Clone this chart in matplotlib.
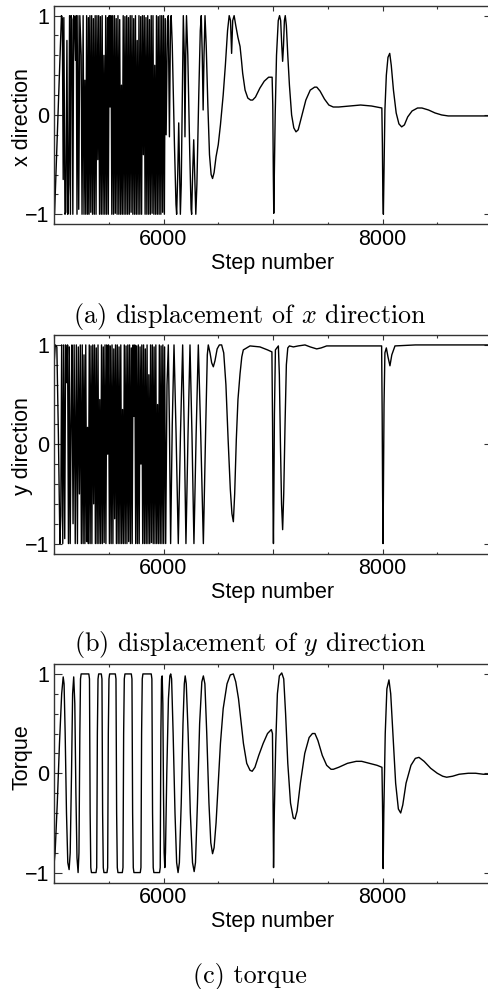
import matplotlib
matplotlib.use('Agg')
import matplotlib.pyplot as plt
import numpy as np
from matplotlib.ticker import MultipleLocator

plt.rcParams['font.family'] = ['Liberation Sans', 'DejaVu Sans']
plt.rcParams['mathtext.fontset'] = 'cm'

# x direction: (step, value)
x_dense = [(5005, -1.00), (5068, 1.00), (5076, 0.97), (5084, -0.65), (5090, 0.98), (5100, -1.00),
           (5108, -0.98), (5118, 0.75), (5126, -1.00), (5134, -0.70), (5142, 1.00), (5150, -1.00),
           (5156, 1.00), (5164, 0.96), (5172, -1.00), (5180, 1.00), (5188, 0.97), (5196, 0.55),
           (5203, 1.00), (5210, -1.00), (5218, 1.00), (5226, -0.95), (5236, 1.00), (5248, 0.60),
           (5256, -1.00), (5266, 1.00), (5274, -1.00), (5282, 0.35), (5290, -1.00), (5298, 1.00),
           (5306, -1.00), (5314, 0.98), (5320, -1.00), (5328, 1.00), (5336, -0.98), (5344, 1.00),
           (5352, -1.00), (5360, 0.97), (5368, -1.00), (5376, 1.00), (5384, -1.00), (5392, 1.00),
           (5400, -0.45), (5408, 1.00), (5416, -1.00), (5424, 0.99), (5432, -1.00), (5440, 1.00),
           (5448, -1.00), (5456, 0.60), (5464, -1.00), (5472, 1.00), (5480, -1.00), (5488, 0.98),
           (5496, -1.00), (5504, 1.00), (5512, 0.08), (5520, 1.00), (5528, -1.00), (5536, 1.00),
           (5544, -1.00), (5552, 1.00), (5560, -0.99), (5568, 0.97), (5576, -1.00), (5584, 1.00),
           (5592, -1.00), (5600, 0.96), (5608, -1.00), (5616, 0.30), (5624, -1.00), (5632, 1.00),
           (5640, -1.00), (5648, 0.99), (5656, -1.00), (5664, 1.00), (5672, -1.00), (5680, 0.98),
           (5688, -1.00), (5696, 1.00), (5704, -0.98), (5712, 1.00), (5720, -1.00), (5728, 0.97),
           (5736, -1.00), (5744, 1.00), (5752, -1.00), (5760, 0.75), (5768, -1.00), (5776, 1.00),
           (5784, -1.00), (5792, 0.99), (5800, -1.00), (5808, 1.00), (5816, -0.40), (5824, 1.00),
           (5832, -1.00), (5840, 0.98), (5848, -1.00), (5856, 1.00), (5864, -1.00), (5872, 0.96),
           (5880, -1.00), (5888, 1.00), (5896, -0.99), (5904, 1.00), (5912, -1.00), (5920, 0.50),
           (5928, -1.00), (5936, 1.00), (5944, -1.00), (5952, 0.99), (5960, -1.00), (5968, 1.00),
           (5976, -1.00), (5984, 1.00), (5992, -0.98), (6000, 1.00), (6008, -1.00), (6016, 0.97),
           (6024, -0.20)]
x_tail = [(6036, 0.95), (6044, 1.00), (6054, -0.22), (6064, 0.95), (6070, 1.00), (6080, 0.70),
          (6100, -0.30), (6114, -0.90), (6120, -1.00), (6130, -0.60), (6139, -0.08), (6148, -0.60),
          (6154, -1.00), (6162, -0.70), (6174, 0.40), (6181, 1.00), (6190, 0.60), (6196, -0.22),
          (6203, 0.60), (6210, 1.00), (6222, 0.60), (6240, -0.40), (6252, -0.95), (6257, -1.00),
          (6266, -0.60), (6276, -0.25), (6285, -0.60), (6295, -1.00), (6305, -0.70), (6322, 0.20),
          (6336, 0.85), (6345, 1.00), (6354, 0.60), (6362, 0.05), (6370, 0.60), (6379, 1.00),
          (6390, 0.70), (6405, 0.10), (6420, -0.40), (6435, -0.60), (6448, -0.64), (6462, -0.58),
          (6480, -0.42), (6500, -0.30), (6520, -0.10), (6545, 0.20), (6565, 0.50), (6585, 0.85),
          (6600, 1.00), (6612, 0.95), (6622, 0.62), (6632, 0.95), (6645, 1.00), (6660, 0.90),
          (6680, 0.78), (6699, 0.69), (6712, 0.55), (6723, 0.42), (6745, 0.25), (6770, 0.17),
          (6795, 0.15), (6814, 0.15), (6840, 0.18), (6880, 0.27), (6920, 0.34), (6960, 0.38),
          (6992, 0.38), (6998, 0.10), (7003, -0.60), (7007, -0.99), (7012, -0.60), (7020, 0.00),
          (7032, 0.60), (7048, 0.95), (7060, 1.00), (7070, 0.95), (7080, 0.70), (7088, 0.54),
          (7096, 0.70), (7104, 0.95), (7112, 1.00), (7122, 0.90), (7135, 0.60), (7150, 0.30),
          (7170, 0.00), (7190, -0.13), (7210, -0.17), (7230, -0.15), (7260, -0.02), (7300, 0.15),
          (7340, 0.25), (7380, 0.28), (7400, 0.28), (7430, 0.24), (7470, 0.16), (7510, 0.10),
          (7550, 0.08), (7600, 0.08), (7700, 0.09), (7800, 0.10), (7900, 0.09), (7994, 0.07),
          (7999, -0.30), (8003, -0.80), (8008, -1.00), (8013, -0.60), (8022, 0.05), (8035, 0.40),
          (8050, 0.58), (8066, 0.62), (8080, 0.50), (8100, 0.25), (8125, 0.02), (8150, -0.09),
          (8175, -0.12), (8200, -0.10), (8230, -0.02), (8270, 0.04), (8320, 0.07), (8360, 0.07),
          (8420, 0.05), (8480, 0.02), (8540, 0.00), (8600, -0.01), (8700, -0.01), (8800, -0.01),
          (9000, -0.01)]

# y direction: panel (b)
y_dense = [(5000, 0.80), (5012, 1.00), (5026, 0.98), (5040, 0.10), (5054, -1.00), (5062, -0.72),
           (5070, 1.00), (5080, -1.00), (5088, 1.00), (5098, -0.95), (5106, 1.00), (5116, 0.62),
           (5124, 1.00), (5132, -1.00), (5140, 0.98), (5148, -1.00), (5156, 0.20), (5164, 1.00),
           (5174, -0.80), (5184, 1.00), (5194, -1.00), (5204, 1.00), (5214, -1.00), (5222, 0.98),
           (5232, -0.50), (5240, 1.00), (5250, -1.00), (5258, 1.00), (5266, -1.00), (5274, 0.90),
           (5282, -1.00), (5290, 1.00), (5298, -0.98), (5306, 0.17), (5314, -1.00), (5322, 1.00),
           (5330, -1.00), (5338, 0.99), (5346, -1.00), (5354, 1.00), (5362, -0.60), (5370, 1.00),
           (5378, -1.00), (5386, 0.97), (5394, -1.00), (5402, 1.00), (5410, -1.00), (5418, 0.45),
           (5426, -1.00), (5434, 1.00), (5442, -1.00), (5450, 0.98), (5458, -0.99), (5466, 1.00),
           (5474, -1.00), (5482, 1.00), (5490, -0.10), (5498, 1.00), (5506, -1.00), (5514, 0.99),
           (5522, -1.00), (5530, 1.00), (5538, -1.00), (5546, 0.96), (5554, -0.75), (5562, 1.00),
           (5570, -1.00), (5578, 1.00), (5586, -1.00), (5594, 0.98), (5602, -1.00), (5610, 1.00),
           (5618, -1.00), (5626, 0.35), (5634, -1.00), (5642, 1.00), (5650, -1.00), (5658, 0.99),
           (5666, -1.00), (5674, 1.00), (5682, -0.98), (5690, 1.00), (5698, -1.00), (5706, 0.97),
           (5714, -1.00), (5722, 1.00), (5730, 0.28), (5738, 1.00), (5746, -1.00), (5754, 0.99),
           (5762, -1.00), (5770, 1.00), (5778, -1.00), (5786, 0.98), (5794, -0.20), (5802, 1.00),
           (5810, -1.00), (5818, 1.00), (5826, -1.00), (5834, 0.96), (5842, -1.00), (5850, 1.00),
           (5858, -1.00), (5866, 0.70), (5874, -1.00), (5882, 1.00), (5890, -0.99), (5898, 1.00),
           (5906, -1.00), (5914, 0.98), (5922, -1.00), (5930, 1.00), (5938, -1.00), (5946, 0.40),
           (5954, -1.00), (5962, 1.00), (5970, -1.00), (5978, 0.99), (5986, -1.00), (5994, 1.00),
           (6002, -1.00), (6010, 0.98), (6020, -1.00)]
y_tail = [(6032, 0.60), (6044, 1.00), (6054, 0.20), (6065, -1.00), (6080, 0.20), (6096, 1.00),
          (6115, 0.10), (6135, -1.00), (6155, 0.10), (6175, 1.00), (6190, 0.10), (6205, -1.00),
          (6224, 0.10), (6242, 1.00), (6260, 0.10), (6278, -1.00), (6298, 0.10), (6318, 1.00),
          (6340, 0.10), (6364, -1.00), (6386, 0.20), (6400, 0.90), (6409, 1.00), (6425, 0.92),
          (6440, 0.82), (6455, 0.78), (6470, 0.84), (6490, 0.96), (6510, 1.00), (6531, 1.00),
          (6550, 0.92), (6570, 0.60), (6590, 0.05), (6610, -0.45), (6625, -0.70), (6638, -0.78),
          (6650, -0.50), (6665, 0.05), (6680, 0.45), (6699, 0.71), (6715, 0.88), (6729, 0.95),
          (6790, 0.99), (6881, 0.98), (6950, 0.95), (6990, 0.93), (6996, 0.20), (7000, -0.60),
          (7004, -1.00), (7008, -0.50), (7013, 0.30), (7022, 0.95), (7049, 0.99), (7058, 0.70),
          (7068, 0.00), (7078, -0.60), (7088, -0.86), (7098, -0.50), (7110, 0.20), (7122, 0.80),
          (7135, 0.97), (7150, 0.99), (7186, 0.98), (7230, 0.99), (7292, 1.00), (7340, 0.98),
          (7399, 0.96), (7440, 0.97), (7490, 0.99), (7600, 0.99), (7800, 0.99), (7992, 0.99),
          (7997, 0.30), (8001, -0.50), (8005, -1.00), (8009, -0.40), (8014, 0.40), (8022, 0.92),
          (8035, 0.97), (8050, 0.88), (8068, 0.79), (8085, 0.90), (8114, 0.99), (8300, 1.00),
          (9000, 1.00)]

# torque: panel (c)
torque = [(5000, -0.92), (5010, -0.80), (5030, -0.30), (5050, 0.30), (5070, 0.80), (5084, 0.97),
          (5092, 0.90), (5102, 0.40), (5114, -0.40), (5126, -0.90), (5138, -0.97), (5148, -0.80),
          (5160, 0.00), (5170, 0.80), (5180, 0.97), (5190, 0.70), (5200, -0.20), (5210, -0.85),
          (5220, -1.00), (5228, -0.80), (5236, 0.40), (5242, 0.95), (5248, 1.00), (5318, 1.00),
          (5324, 0.95), (5330, -0.40), (5336, -0.95), (5342, -1.00), (5384, -1.00), (5390, -0.95),
          (5396, 0.40), (5402, 0.95), (5408, 1.00), (5432, 1.00), (5438, 0.95), (5444, -0.40),
          (5450, -0.95), (5456, -1.00), (5484, -1.00), (5490, -0.95), (5496, 0.40), (5502, 0.95),
          (5508, 1.00), (5560, 1.00), (5566, 0.95), (5572, -0.40), (5578, -0.95), (5584, -1.00),
          (5624, -1.00), (5630, -0.95), (5636, 0.40), (5642, 0.95), (5648, 1.00), (5706, 1.00),
          (5712, 0.95), (5718, -0.40), (5724, -0.95), (5730, -1.00), (5788, -1.00), (5794, -0.95),
          (5800, 0.40), (5806, 0.95), (5812, 1.00), (5888, 1.00), (5894, 0.95), (5900, -0.40),
          (5906, -0.95), (5912, -1.00), (5964, -1.00), (5970, -0.95), (5976, 0.40), (5982, 0.95),
          (5988, 0.98), (5994, 0.70), (6000, -0.20), (6006, -0.80), (6012, -0.95), (6018, -0.80),
          (6030, 0.00), (6045, 0.75), (6058, 0.98), (6066, 1.00), (6074, 0.95), (6088, 0.40),
          (6105, -0.40), (6120, -0.90), (6133, -1.00), (6145, -0.90), (6162, -0.30), (6178, 0.50),
          (6190, 0.90), (6198, 0.98), (6208, 0.90), (6225, 0.40), (6245, -0.40), (6265, -0.90),
          (6280, -0.99), (6292, -0.90), (6310, -0.30), (6330, 0.50), (6350, 0.92), (6364, 0.98),
          (6378, 0.90), (6395, 0.40), (6415, -0.30), (6432, -0.70), (6448, -0.81), (6462, -0.75),
          (6480, -0.50), (6500, -0.10), (6520, 0.30), (6545, 0.65), (6580, 0.90), (6610, 0.99),
          (6638, 1.00), (6660, 0.92), (6685, 0.75), (6705, 0.55), (6730, 0.30), (6760, 0.10),
          (6790, 0.03), (6810, 0.02), (6835, 0.06), (6870, 0.18), (6910, 0.30), (6950, 0.40),
          (6985, 0.44), (6995, 0.40), (7000, -0.20), (7005, -0.95), (7012, -0.40), (7025, 0.30),
          (7040, 0.80), (7058, 0.98), (7080, 1.01), (7098, 0.95), (7115, 0.60), (7135, 0.10),
          (7160, -0.30), (7185, -0.45), (7201, -0.46), (7220, -0.38), (7250, -0.10), (7290, 0.20),
          (7330, 0.36), (7360, 0.40), (7383, 0.40), (7410, 0.33), (7450, 0.18), (7490, 0.08),
          (7530, 0.04), (7551, 0.04), (7600, 0.06), (7680, 0.10), (7760, 0.12), (7810, 0.12),
          (7880, 0.10), (7950, 0.08), (7995, 0.06), (8000, -0.30), (8006, -0.96), (8012, -0.40),
          (8025, 0.40), (8040, 0.85), (8059, 0.94), (8075, 0.80), (8095, 0.40), (8120, -0.10),
          (8145, -0.36), (8166, -0.40), (8185, -0.32), (8215, -0.10), (8260, 0.08), (8300, 0.15),
          (8333, 0.16), (8380, 0.12), (8440, 0.05), (8500, 0.00), (8550, -0.03), (8586, -0.04),
          (8640, -0.03), (8700, -0.01), (8784, 0.00), (8850, 0.00), (8920, -0.01), (9000, -0.01)]

panels = [
    (np.array(x_dense + x_tail), 'x direction', r'(a) displacement of $x$ direction', 0.49),
    (np.array(y_dense + y_tail), 'y direction', r'(b) displacement of $y$ direction', 0.49),
    (np.array(torque), 'Torque', '(c) torque', 0.573),
]

W, H = 489, 989
fig = plt.figure(figsize=(W / 100, H / 100), dpi=100)

tops = [5.7, 335, 664]
cap_base = [322.5, 651.5, 983]
for (d, ylab, cap, ly), top, cb in zip(panels, tops, cap_base):
    ax = fig.add_axes([54 / W, 1 - (top + 218.5) / H, 438 / W, 218.5 / H])
    ax.plot(d[:, 0], d[:, 1], color='black', lw=1.0)
    ax.set_xlim(5000, 9000)
    ax.set_ylim(-1.1, 1.1)
    ax.xaxis.set_major_locator(MultipleLocator(1000))
    ax.xaxis.set_minor_locator(MultipleLocator(500))
    ax.set_xticks([6000, 7000, 8000], ['6000', '', '8000'])
    ax.set_yticks([-1, 0, 1])
    ax.yaxis.set_minor_locator(MultipleLocator(0.2))
    ax.tick_params(which='both', direction='in', top=True, right=True,
                   labelsize=15.5, pad=3.5, width=0.8, color='#333333')
    ax.tick_params(axis='x', which='major', length=3.6)
    ax.tick_params(axis='x', which='minor', length=1.8)
    ax.tick_params(axis='y', which='major', length=5.5)
    ax.tick_params(axis='y', which='minor', length=2.8)
    for sp in ax.spines.values():
        sp.set_linewidth(1.0)
        sp.set_color('#333333')
    ax.set_xlabel('Step number', fontsize=15.5, labelpad=2)
    ax.set_ylabel(ylab, fontsize=15.5)
    ax.yaxis.set_label_coords(-0.049, ly)
    fig.text(250 / W, 1 - cb / H, cap, fontsize=18.8, family='cmr10',
             ha='center', va='baseline')

fig.savefig('out.png', dpi=100)
